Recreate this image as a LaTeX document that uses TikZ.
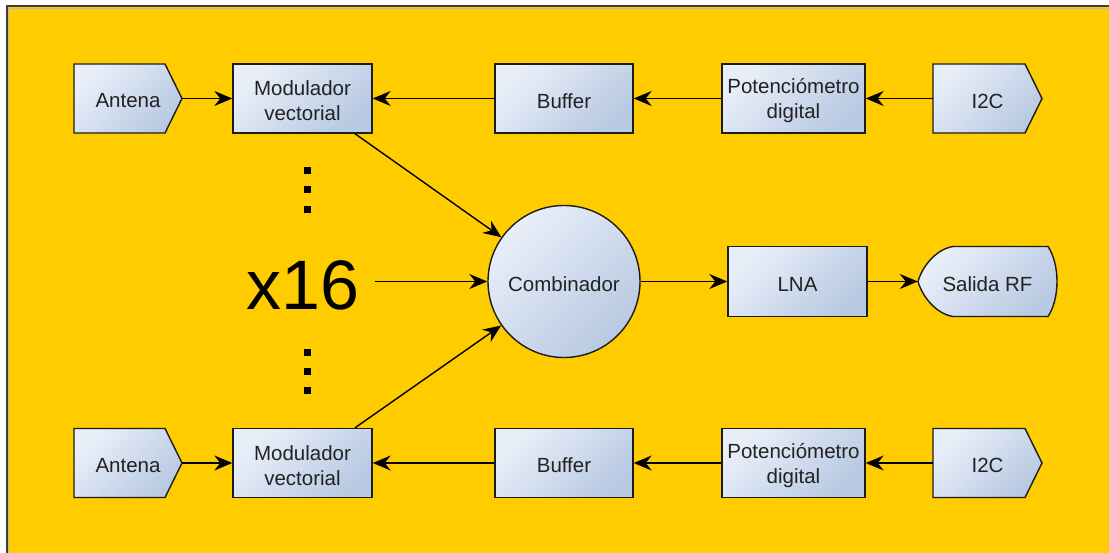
\documentclass[tikz,border=0pt]{standalone}
\usepackage{fontspec}
\setmainfont{Liberation Sans}
\usetikzlibrary{arrows.meta}

\definecolor{bgyellow}{HTML}{FFCC00}
\definecolor{boxlight}{HTML}{E9EFF9}
\definecolor{boxdark}{HTML}{B8C9E2}
\definecolor{edge}{HTML}{1C1C1C}
\definecolor{ink}{HTML}{222222}

\pgfdeclarelayer{back}
\pgfdeclarelayer{shapes}
\pgfsetlayers{back,shapes,main}

\begin{document}
\begin{tikzpicture}[x=1pt,y=-1pt,
  shadebox/.style={top color=boxlight, bottom color=boxdark, shading angle=45,
                   draw=edge, line width=1.4pt},
  labeltext/.style={font=\fontsize{20.5}{25}\selectfont, text=ink, align=center},
  txt/.style={label={[labeltext, inner sep=0pt, yshift=-2.5pt]center:{#1}}},
  block/.style={shadebox, rectangle, minimum width=139pt,
                minimum height=69pt, inner sep=0pt},
  ghost/.style={rectangle, minimum height=69pt, inner sep=0pt},
  link/.style={line width=1.4pt, draw=black,
               -{Stealth[length=18pt,width=15pt,inset=6pt]}},
]
\useasboundingbox (0,0) rectangle (1109,553);

% frame
\begin{pgfonlayer}{back}
  \fill[white] (0,0) rectangle (1109,553);
  \fill[bgyellow] (7,7) rectangle (1109,553);
  \draw[gray!55, line width=1pt] (8.5,553) -- (8.5,8.5) -- (1109,8.5);
  \draw[edge!85, line width=2pt] (6.5,553) -- (6.5,6.5) -- (1109,6.5);
\end{pgfonlayer}

% upper chain
\node[ghost, minimum width=108pt, txt={Antena}] (a1) at (128,98.5) {};
\node[block, txt={Modulador\\vectorial}] (m1) at (302.5,98.5) {};
\node[block, minimum width=138pt, txt={Buffer}] (b1) at (564,98.5) {};
\node[block, minimum width=143pt, txt={Potenciómetro\\digital}] (p1) at (793.5,98.5) {};
\node[ghost, minimum width=109pt, txt={I2C}] (i1) at (987.5,98.5) {};

% lower chain
\node[ghost, minimum width=108pt, txt={Antena}] (a2) at (128,463) {};
\node[block, txt={Modulador\\vectorial}] (m2) at (302.5,463) {};
\node[block, minimum width=138pt, txt={Buffer}] (b2) at (564,463) {};
\node[block, minimum width=143pt, txt={Potenciómetro\\digital}] (p2) at (793.5,463) {};
\node[ghost, minimum width=109pt, txt={I2C}] (i2) at (987.5,463) {};

% middle row
\node[shadebox, circle, minimum size=152pt, inner sep=0pt, txt={Combinador}] (c) at (564,281.5) {};
\node[block, minimum height=70pt, txt={LNA}] (l) at (797.5,281.5) {};
\node[ghost, minimum width=139pt, minimum height=70pt, txt={Salida RF}] (s) at (987.5,281.5) {};
\node[font=\fontsize{70}{84}\selectfont, text=black, inner sep=0pt] (x) at (303,285) {x16};

% pointed and rounded outlines
\begin{pgfonlayer}{shapes}
  \foreach \yc in {98.5,463} {
    \path[shadebox] (74,\yc-34.5) -- (165,\yc-34.5) -- (182,\yc) -- (165,\yc+34.5)
      -- (74,\yc+34.5) -- cycle;
    \path[shadebox] (933,\yc-34.5) -- (1025,\yc-34.5) -- (1042,\yc) -- (1025,\yc+34.5)
      -- (933,\yc+34.5) -- cycle;
  }
  \path[shadebox] (953,246.5) -- (1048,246.5)
    .. controls (1060,264.5) and (1060,298.5) .. (1048,316.5) -- (953,316.5)
    .. controls (935,313.5) and (922,295.5) .. (918,281.5)
    .. controls (922,267.5) and (935,249.5) .. (953,246.5) -- cycle;
\end{pgfonlayer}

% vertical ellipsis marks
\foreach \yy in {171,190,210,353,372,391}
  \fill[black] (303.5,\yy-3.5) rectangle +(7,7);

% connectors
\foreach \k in {1,2} {
  \draw[link] (a\k.east) -- (m\k.west);
  \draw[link] (b\k.west) -- (m\k.east);
  \draw[link] (p\k.west) -- (b\k.east);
  \draw[link] (i\k.west) -- (p\k.east);
}
\draw[link] ([xshift=52.5pt]m1.south) -- (c);
\draw[link] ([xshift=52.5pt]m2.north) -- (c);
\draw[link] ([xshift=15pt]x.east |- c.west) -- (c.west);
\draw[link] (c.east) -- (l.west);
\draw[link] (l.east) -- (s.west);
\end{tikzpicture}
\end{document}
